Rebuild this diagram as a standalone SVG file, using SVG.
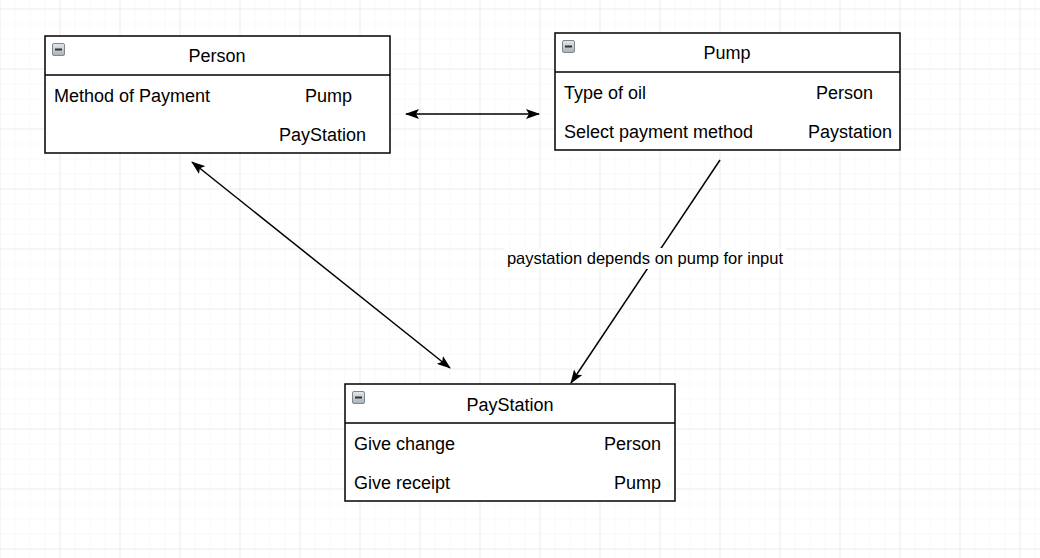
<svg xmlns="http://www.w3.org/2000/svg" width="1040" height="558" viewBox="0 0 1040 558">
<defs>
<pattern id="minor" width="15" height="15" patternUnits="userSpaceOnUse" x="14.5" y="8.5">
<path d="M0,0 H15 M0,0 V15" fill="none" stroke="#f3f3f3" stroke-width="1"/>
</pattern>
<pattern id="major" width="60" height="60" patternUnits="userSpaceOnUse" x="59.5" y="8.5">
<path d="M0,0 H60 M0,0 V60" fill="none" stroke="#e2e2e2" stroke-width="1"/>
</pattern>
<linearGradient id="ig" x1="0" y1="0" x2="0" y2="1">
<stop offset="0" stop-color="#e4e8ec"/>
<stop offset="1" stop-color="#a9b1b8"/>
</linearGradient>
<marker id="ah" viewBox="0 0 14 10" refX="13" refY="5" markerWidth="14" markerHeight="10" markerUnits="userSpaceOnUse" orient="auto-start-reverse">
<path d="M0,0 L14,5 L0,10 L3,5 z" fill="#000"/>
</marker>
<g id="icon">
<rect x="0.5" y="0.5" width="12" height="12" rx="1.5" fill="url(#ig)" stroke="#7d8790"/>
<rect x="3" y="5.5" width="7" height="2" fill="#333"/>
</g>
</defs>
<style>
.box{fill:#fff;stroke:#000;stroke-width:1.5}
.div{stroke:#000;stroke-width:1.5}
.t{font-family:"Liberation Sans",Arial,sans-serif;font-size:18px;fill:#000}
.c{text-anchor:middle}
.e{text-anchor:end}
.lbl{font-family:"Liberation Sans",Arial,sans-serif;font-size:16.5px;fill:#000;text-anchor:middle}
.edge{fill:none;stroke:#000;stroke-width:1.5}
</style>
<rect width="1040" height="558" fill="#fff"/>
<rect width="1040" height="558" fill="url(#minor)"/>
<rect width="1040" height="558" fill="url(#major)"/>

<g id="connectors">
<line class="edge" x1="406" y1="114" x2="539" y2="114" marker-start="url(#ah)" marker-end="url(#ah)"/>
<line class="edge" x1="192" y1="162" x2="450" y2="368" marker-start="url(#ah)" marker-end="url(#ah)"/>
<line class="edge" x1="720" y1="160" x2="571" y2="383" marker-end="url(#ah)"/>
<rect x="504" y="248" width="282" height="21" fill="#fff"/>
<text class="lbl" x="645" y="264">paystation depends on pump for input</text>
</g>

<g id="person">
<rect class="box" x="45" y="36" width="345" height="117"/>
<line class="div" x1="45" y1="75" x2="390" y2="75"/>
<use href="#icon" x="52" y="43"/>
<text class="t c" x="217" y="62">Person</text>
<text class="t" x="54" y="102">Method of Payment</text>
<text class="t" x="305" y="102">Pump</text>
<text class="t" x="279" y="141">PayStation</text>
</g>

<g id="pump">
<rect class="box" x="555" y="33" width="345" height="117"/>
<line class="div" x1="555" y1="72" x2="900" y2="72"/>
<use href="#icon" x="562" y="40"/>
<text class="t c" x="727" y="59">Pump</text>
<text class="t" x="564" y="99">Type of oil</text>
<text class="t" x="816" y="99">Person</text>
<text class="t" x="564" y="138">Select payment method</text>
<text class="t" x="808" y="138">Paystation</text>
</g>

<g id="paystation">
<rect class="box" x="345" y="384" width="330" height="117"/>
<line class="div" x1="345" y1="423" x2="675" y2="423"/>
<use href="#icon" x="352" y="391"/>
<text class="t c" x="510" y="411">PayStation</text>
<text class="t" x="354" y="450">Give change</text>
<text class="t e" x="661" y="450">Person</text>
<text class="t" x="354" y="489">Give receipt</text>
<text class="t e" x="661" y="489">Pump</text>
</g>
</svg>
